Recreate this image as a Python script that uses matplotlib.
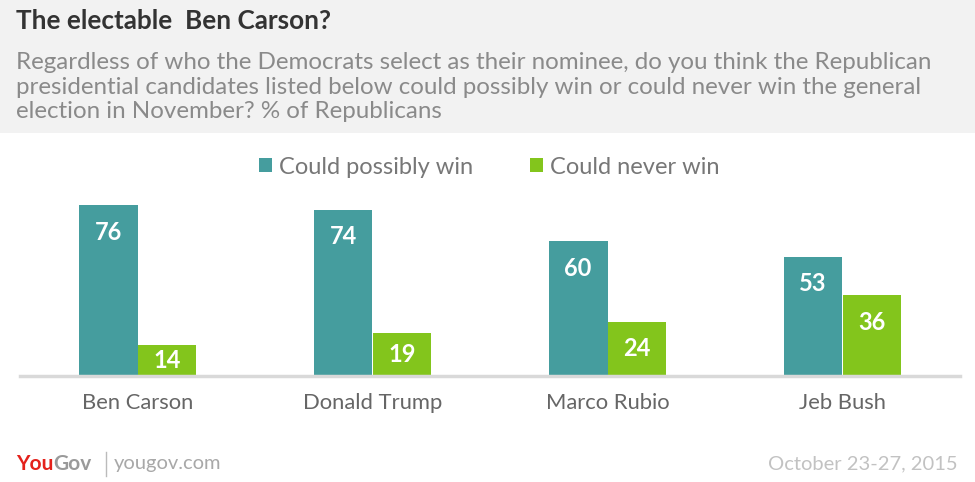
import matplotlib
matplotlib.use("Agg")
import matplotlib.pyplot as plt
from matplotlib.patches import Rectangle

plt.rcParams['font.family'] = ['Lato', 'DejaVu Sans']

# data
candidates = ["Ben Carson", "Donald Trump", "Marco Rubio", "Jeb Bush"]
possibly_win = [76, 74, 60, 53]
never_win = [14, 19, 24, 36]
series_names = ["Could possibly win", "Could never win"]

title = "The electable  Ben Carson?"
subtitle = ("Regardless of who the Democrats select as their nominee, do you think the Republican\n"
            "presidential candidates listed below could possibly win or could never win the general\n"
            "election in November? % of Republicans")
date_text = "October 23-27, 2015"

teal = "#459d9e"
green = "#83c51c"

W, H = 975, 482
fig = plt.figure(figsize=(W / 100, H / 100), dpi=100)
fig.patch.set_facecolor("white")

# grey header band
fig.patches.append(Rectangle((0, 1 - 133 / H), 1, 133 / H, transform=fig.transFigure,
                             facecolor="#f2f2f2", edgecolor="none", zorder=0))

fig.text(16 / W, 1 - 21 / H, title, fontsize=18.8, fontweight="bold", color="#333333",
         va="center", ha="left")
fig.text(16 / W, 1 - 87 / H, subtitle, fontsize=17.4, color="#8a8a8a", va="center",
         ha="left", linespacing=1.2)

ax = fig.add_axes([20 / W, (H - 376) / H, 940 / W, 180 / H])
ax.set_facecolor("none")
x = list(range(len(candidates)))
bw = 0.251
ax.bar([i - bw / 2 for i in x], possibly_win, width=bw, color=teal, label=series_names[0])
ax.bar([i + bw / 2 for i in x], never_win, width=bw, color=green, label=series_names[1])

for i in x:
    for off, v in ((-bw / 2, possibly_win[i]), (bw / 2, never_win[i])):
        ax.text(i + off, v - min(12, v / 2), str(v), ha="center", va="center",
                color="white", fontsize=17, fontweight="bold")

ax.set_xlim(-0.5, len(candidates) - 0.5)
ax.set_ylim(0, 80)
ax.set_yticks([])
ax.set_xticks(x)
ax.set_xticklabels(candidates, fontsize=15.8, color="#666666")
ax.tick_params(axis="x", length=0, pad=12)
for s in ["top", "right", "left"]:
    ax.spines[s].set_visible(False)
ax.spines["bottom"].set_color("#d9d9d9")
ax.spines["bottom"].set_linewidth(2.5)

leg = fig.legend(loc="center", bbox_to_anchor=(489 / W, 1 - 167 / H), ncol=2, frameon=False,
                 fontsize=17, handlelength=0.55, handleheight=0.55, handletextpad=0.3,
                 columnspacing=2.4)
for t in leg.get_texts():
    t.set_color("#777777")

# footer
fig.text(16 / W, 1 - 464 / H, "You", fontsize=15, fontweight="bold", color="#e4211b",
         va="center", ha="left")
fig.text(53 / W, 1 - 464 / H, "Gov", fontsize=15, fontweight="bold", color="#9a9a9a",
         va="center", ha="left")
fig.add_artist(plt.Line2D([106 / W, 106 / W], [1 - 476 / H, 1 - 452 / H], color="#bbbbbb",
                          lw=1, transform=fig.transFigure))
fig.text(114 / W, 1 - 464 / H, "yougov.com", fontsize=14.5, color="#a8a8a8",
         va="center", ha="left")
fig.text(958 / W, 1 - 464 / H, date_text, fontsize=14.5, color="#c2c2c2", va="center",
         ha="right")

fig.savefig("out.png", dpi=100)
